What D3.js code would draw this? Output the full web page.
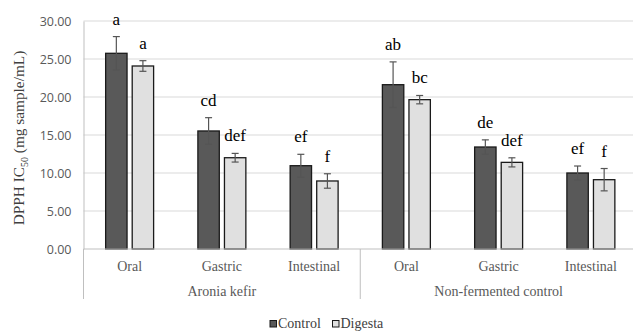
<!DOCTYPE html>
<html>
<head>
<meta charset="utf-8">
<script src="https://cdn.jsdelivr.net/npm/d3@7"></script>
<style>
  body { margin: 0; background: #fff; }
  svg { display: block; }
  .tick text { font-family: "Open Sans", "DejaVu Sans", sans-serif; }
</style>
</head>
<body>
<div id="chart"></div>
<script>
// data
const groups = ["Aronia kefir", "Non-fermented control"];
const phases = ["Oral", "Gastric", "Intestinal"];
const seriesNames = ["Control", "Digesta"];
const controlValues = [25.75, 15.53, 10.96, 21.62, 13.42, 10.00];
const controlErrors = [2.2, 1.75, 1.5, 3.0, 0.94, 0.92];
const digestaValues = [24.08, 12.01, 8.95, 19.65, 11.40, 9.12];
const digestaErrors = [0.7, 0.57, 0.95, 0.55, 0.6, 1.47];
const controlLetters = ["a", "cd", "ef", "ab", "de", "ef"];
const digestaLetters = ["a", "def", "f", "bc", "def", "f"];
const yTicks = [0, 5, 10, 15, 20, 25, 30];

const width = 633, height = 332;
const margin = { left: 83.5, right: -4, top: 21, bottom: 83 };
const plotH = height - margin.top - margin.bottom;
const serif = "'Liberation Serif', 'Times New Roman', serif";

const svg = d3.select("#chart").append("svg")
    .attr("width", width)
    .attr("height", height);

const cats = [];
groups.forEach((g, gi) => phases.forEach((p, pi) => cats.push({ g: g, p: p, i: gi * 3 + pi })));

const x = d3.scaleBand()
    .domain(cats.map(d => d.i))
    .range([margin.left, width - margin.right])
    .padding(0);

const y = d3.scaleLinear().domain([0, 30]).range([margin.top + plotH, margin.top]);

// gridlines
svg.append("g").selectAll("line")
    .data(yTicks.slice(1))
    .enter().append("line")
    .attr("x1", margin.left).attr("x2", width)
    .attr("y1", d => y(d)).attr("y2", d => y(d))
    .attr("stroke", "#d9d9d9").attr("stroke-width", 1);

// y axis labels
const yAxis = svg.append("g")
    .attr("transform", `translate(${margin.left},0)`)
    .call(d3.axisLeft(y).tickValues(yTicks).tickFormat(d3.format(".2f")).tickSize(0).tickPadding(12));
yAxis.select(".domain").attr("stroke", "#bfbfbf");
yAxis.selectAll("text").attr("fill", "#595959").style("font-size", "12.5px");

svg.append("text")
    .attr("transform", `translate(24,${y(15) + 3}) rotate(-90)`)
    .attr("text-anchor", "middle")
    .attr("font-family", serif)
    .attr("font-size", 15.3)
    .attr("fill", "#404040")
    .html('DPPH IC<tspan font-size="10" dy="4">50</tspan><tspan dy="-4"> (mg sample/mL)</tspan>');

// bars
const barW = x.bandwidth() * 0.232;
const gap = x.bandwidth() * 0.028;
const series = [
    { name: seriesNames[0], vals: controlValues, errs: controlErrors, letters: controlLetters, fill: "#595959", off: -gap - barW },
    { name: seriesNames[1], vals: digestaValues, errs: digestaErrors, letters: digestaLetters, fill: "#e0e0e0", off: gap }
];

series.forEach(s => {
    const g = svg.append("g");
    g.selectAll("rect")
        .data(s.vals)
        .enter().append("rect")
        .attr("x", (d, i) => x(i) + x.bandwidth() / 2 + s.off)
        .attr("y", d => y(d))
        .attr("width", barW)
        .attr("height", d => y(0) - y(d))
        .attr("fill", s.fill)
        .attr("stroke", "#1a1a1a")
        .attr("stroke-width", 1.3);

    const cx = i => x(i) + x.bandwidth() / 2 + s.off + barW / 2;
    const eb = g.selectAll(".err")
        .data(s.vals)
        .enter().append("g").attr("class", "err")
        .attr("stroke", "#555").attr("stroke-width", 1.2);
    eb.append("line")
        .attr("x1", (d, i) => cx(i)).attr("x2", (d, i) => cx(i))
        .attr("y1", (d, i) => y(d + s.errs[i])).attr("y2", (d, i) => y(d - s.errs[i]));
    eb.append("line")
        .attr("x1", (d, i) => cx(i) - 3.5).attr("x2", (d, i) => cx(i) + 3.5)
        .attr("y1", (d, i) => y(d + s.errs[i])).attr("y2", (d, i) => y(d + s.errs[i]));
    eb.append("line")
        .attr("x1", (d, i) => cx(i) - 3.5).attr("x2", (d, i) => cx(i) + 3.5)
        .attr("y1", (d, i) => y(d - s.errs[i])).attr("y2", (d, i) => y(d - s.errs[i]));

    g.selectAll(".lbl")
        .data(s.letters)
        .enter().append("text").attr("class", "lbl")
        .attr("x", (d, i) => cx(i))
        .attr("y", (d, i) => y(s.vals[i] + s.errs[i]) - 12)
        .attr("text-anchor", "middle")
        .attr("font-family", serif)
        .attr("font-size", 17)
        .attr("fill", "#000")
        .text(d => d);
});

// x axis (multi-level)
const xa = svg.append("g");
xa.append("line")
    .attr("x1", margin.left).attr("x2", width)
    .attr("y1", y(0)).attr("y2", y(0))
    .attr("stroke", "#bfbfbf");
[0, 3].forEach(i => {
    xa.append("line")
        .attr("x1", x(i)).attr("x2", x(i))
        .attr("y1", y(0)).attr("y2", 299)
        .attr("stroke", "#bfbfbf");
});
xa.selectAll(".cat")
    .data(cats)
    .enter().append("text").attr("class", "cat")
    .attr("x", d => x(d.i) + x.bandwidth() / 2)
    .attr("y", 271)
    .attr("text-anchor", "middle")
    .attr("font-family", serif)
    .attr("font-size", 14)
    .attr("fill", "#595959")
    .text(d => d.p);
xa.selectAll(".grp")
    .data(groups)
    .enter().append("text").attr("class", "grp")
    .attr("x", (d, gi) => (x(gi * 3) + x(gi * 3 + 2) + x.bandwidth()) / 2)
    .attr("y", 296)
    .attr("text-anchor", "middle")
    .attr("font-family", serif)
    .attr("font-size", 14)
    .attr("fill", "#595959")
    .text(d => d);

// legend
const legend = svg.append("g");
const legX = [270, 332.5];
series.forEach((s, i) => {
    legend.append("rect")
        .attr("x", legX[i]).attr("y", 320.5)
        .attr("width", 6.5).attr("height", 6.5)
        .attr("fill", s.fill).attr("stroke", "#1a1a1a").attr("stroke-width", 1);
    legend.append("text")
        .attr("x", legX[i] + 8).attr("y", 328)
        .attr("font-family", serif)
        .attr("font-size", 14)
        .attr("fill", "#404040")
        .text(s.name);
});
</script>
</body>
</html>
